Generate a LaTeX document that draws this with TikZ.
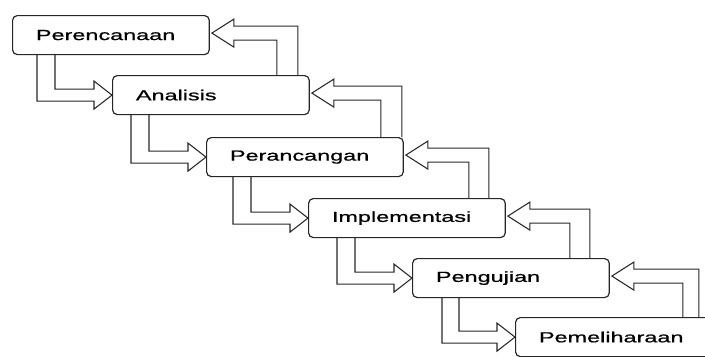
\documentclass[tikz,border=0pt]{standalone}
\usepackage{fontspec}
\newfontfamily\stagefont[FakeStretch=1.6,FakeBold=0.8]{Liberation Sans}
\usetikzlibrary{calc}

\begin{document}
\begin{tikzpicture}[x=0.03cm,y=-0.03cm,
	stage/.style={draw=black!85,line width=1pt,rounded corners=4pt,anchor=north west,
		minimum height=1.17cm,text width=4.5cm,inner xsep=0.7cm,inner ysep=0pt,align=left,
		font=\stagefont\fontsize{12.5}{14}\selectfont},
	hollow/.style={draw=black!85,line width=0.9pt,line join=miter}]
	\useasboundingbox (0,0) rectangle (705,356);
	\clip (0,0) rectangle (705,356);

	\node[stage] (per) at (12,15) {Perencanaan};
	\node[stage] (ana) at (112,75) {Analisis};
	\node[stage] (ran) at (206,137) {Perancangan};
	\node[stage] (imp) at (308,198) {Implementasi};
	\node[stage] (uji) at (412,258) {Pengujian};
	\node[stage,text width=4.8cm] (pel) at (515,317) {Pemeliharaan};

	% forward: down from the bottom, into the next stage
	\foreach \src/\dst/\po/\pi in {per/ana/25/43, ana/ran/19/37, ran/imp/27/45, imp/uji/29/47, uji/pel/30/47} {
		\coordinate (f) at (\dst.west);
		\draw[hollow] ($(\src.south west)+(\po,0)$) |- ($(f)+(-18,6)$) -- ++(0,8) -- (f)
			-- ++(-18,-14) -- ++(0,8) -| ($(\src.south west)+(\pi,0)$);
	}

	% back: up from the top, into the stage before
	\foreach \src/\dst/\qi/\qo in {ana/per/33/12, ran/ana/23/2, imp/ran/37/17, uji/imp/40/20, pel/uji/40/24} {
		\coordinate (t) at ($(\dst.east)+(2,-2)$);
		\draw[hollow] ($(\src.north east)+(-\qi,0)$) |- ($(t)+(22,7)$) -- ++(0,7) -- (t)
			-- ++(22,-14) -- ++(0,7) -| ($(\src.north east)+(-\qo,0)$);
	}
\end{tikzpicture}
\end{document}
